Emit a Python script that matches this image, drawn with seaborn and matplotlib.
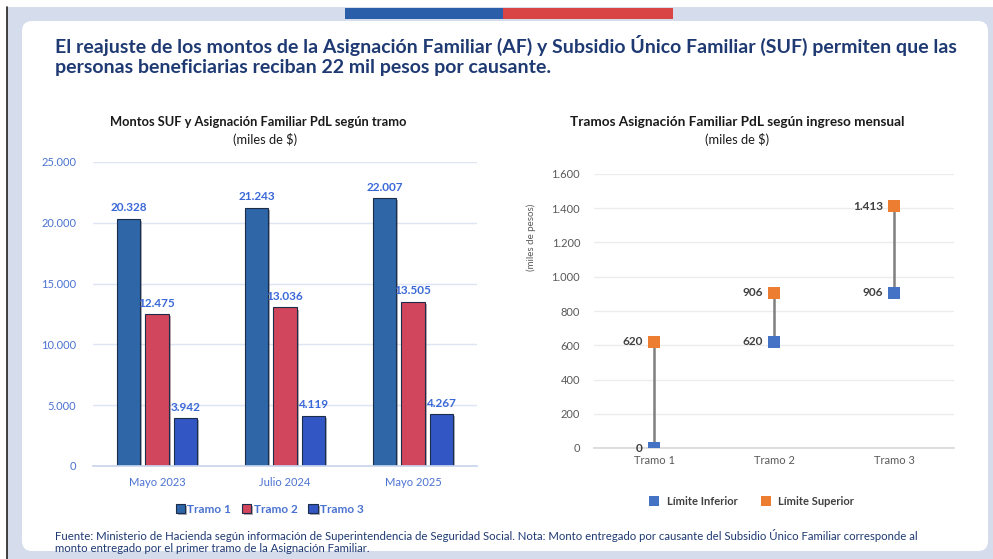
import numpy as np
import pandas as pd
import matplotlib
matplotlib.use("Agg")
import matplotlib.pyplot as plt
import matplotlib.patheffects as pe
from matplotlib.patches import Rectangle, FancyBboxPatch
import seaborn as sns

# datos
periodos = ["Mayo 2023", "Julio 2024", "Mayo 2025"]
tramo1 = [20328, 21243, 22007]
tramo2 = [12475, 13036, 13505]
tramo3 = [3942, 4119, 4267]

tramos = ["Tramo 1", "Tramo 2", "Tramo 3"]
lim_inf = [0, 620, 906]
lim_sup = [620, 906, 1413]

sns.set_theme(style="white")
plt.rcParams["font.family"] = ["Lato", "DejaVu Sans"]

NAVY = "#1f3a73"
BLUE_TXT = "#4a72d0"
pal_bar = ["#2e66a8", "#d1465d", "#3256c3"]
pal_pt = ["#4472c4", "#ed7d31"]

def fmt(v):
    return f"{v:,.0f}".replace(",", ".")

W, H = 993, 559
fig = plt.figure(figsize=(W / 100, H / 100), dpi=100)
fig.patch.set_facecolor("white")

def px(x0, y0, x1, y1):
    return [x0 / W, 1 - y1 / H, (x1 - x0) / W, (y1 - y0) / H]

# fondo y tarjeta
bg = fig.add_axes([0, 0, 1, 1], zorder=-10)
bg.set_xlim(0, W)
bg.set_ylim(H, 0)
bg.axis("off")
bg.add_patch(Rectangle((7, 7), W - 7, H - 7, color="#d5ddec", lw=0))
bg.plot([7, 7], [7, H], color="#222222", lw=1.2)
bg.add_patch(FancyBboxPatch((22, 21), 966, 530, boxstyle="round,pad=0,rounding_size=10",
                            fc="white", ec="none"))
bg.add_patch(Rectangle((345, 8), 158, 11, color="#2a5ea8", lw=0))
bg.add_patch(Rectangle((503, 8), 170, 11, color="#d94444", lw=0))

fig.text(55 / W, 1 - 45 / H, "El reajuste de los montos de la Asignación Familiar (AF) y Subsidio Único Familiar (SUF) permiten que las",
         fontsize=14, fontweight="bold", color=NAVY, va="center")
fig.text(55 / W, 1 - 68 / H, "personas beneficiarias reciban 22 mil pesos por causante.",
         fontsize=14, fontweight="bold", color=NAVY, va="center")

fig.text(55 / W, 1 - 535 / H, "Fuente: Ministerio de Hacienda según información de Superintendencia de Seguridad Social. Nota: Monto entregado por causante del Subsidio Único Familiar corresponde al",
         fontsize=8.2, color=NAVY, va="center")
fig.text(55 / W, 1 - 549 / H, "monto entregado por el primer tramo de la Asignación Familiar.",
         fontsize=8.2, color=NAVY, va="center")

# ---- grafico izquierdo ----
df_bar = pd.DataFrame({
    "periodo": periodos * 3,
    "tramo": ["Tramo 1"] * 3 + ["Tramo 2"] * 3 + ["Tramo 3"] * 3,
    "monto": tramo1 + tramo2 + tramo3,
})

ax1 = fig.add_axes(px(93, 162, 477, 466))
sns.barplot(data=df_bar, x="periodo", y="monto", hue="tramo", palette=pal_bar, saturation=1,
            width=0.66, gap=0.18, edgecolor="#1c2d4a", linewidth=0.8, ax=ax1)
for p in ax1.patches:
    p.set_path_effects([pe.SimplePatchShadow(offset=(1.5, -1.5), alpha=0.35), pe.Normal()])
for c in ax1.containers:
    ax1.bar_label(c, labels=[fmt(v) for v in c.datavalues], padding=4,
                  fontsize=8.5, fontweight="bold", color="#3a68d8")
ax1.set_ylim(0, 25000)
ax1.set_xlim(-0.5, 2.5)
ax1.set_yticks(np.arange(0, 25001, 5000))
ax1.set_yticklabels([fmt(v) for v in np.arange(0, 25001, 5000)])
ax1.yaxis.grid(True, color="#dde5f3", lw=1)
ax1.set_axisbelow(True)
for s in ["top", "right", "left"]:
    ax1.spines[s].set_visible(False)
ax1.spines["bottom"].set_color("#c9d5ee")
ax1.tick_params(axis="y", length=0, labelsize=8, labelcolor=BLUE_TXT, pad=12)
ax1.tick_params(axis="x", length=0, labelsize=8, labelcolor=BLUE_TXT, pad=8)
ax1.set_xticks([0.5, 1.5], minor=True)
ax1.tick_params(axis="x", which="minor", length=4, color="#c9d5ee")
ax1.set_xlabel("")
ax1.set_ylabel("")
leg = ax1.legend(loc="upper center", bbox_to_anchor=(0.46, -0.09), ncol=3, frameon=False,
                 handlelength=0.8, handleheight=0.8, handletextpad=0.2, columnspacing=0.9,
                 prop={"size": 8.5, "weight": "bold"})
for t in leg.get_texts():
    t.set_color(BLUE_TXT)
for h in leg.legend_handles:
    h.set_edgecolor("#1c2d4a")

fig.text(258 / W, 1 - 122 / H, "Montos SUF y Asignación Familiar PdL según tramo",
         ha="center", va="center", fontsize=9.3, fontweight="bold", color="#1a1a1a")
fig.text(265 / W, 1 - 140 / H, "(miles de $)", ha="center", va="center", fontsize=9.3, color="#1a1a1a")

# ---- grafico derecho ----
df_pt = pd.DataFrame({
    "tramo": tramos * 2,
    "limite": ["Límite Inferior"] * 3 + ["Límite Superior"] * 3,
    "valor": lim_inf + lim_sup,
})

ax2 = fig.add_axes(px(594, 174, 954, 448))
ax2.vlines(tramos, lim_inf, lim_sup, color="#7f7f7f", lw=1.8, zorder=2)
sns.scatterplot(data=df_pt, x="tramo", y="valor", hue="limite", palette=pal_pt,
                marker="s", s=70, linewidth=0, zorder=3, ax=ax2)
for i, (lo, hi) in enumerate(zip(lim_inf, lim_sup)):
    ax2.annotate(fmt(lo), (i, lo), xytext=(-8, 0), textcoords="offset points",
                 ha="right", va="center", fontsize=8.5, fontweight="bold", color="#404040")
    ax2.annotate(fmt(hi), (i, hi), xytext=(-8, 0), textcoords="offset points",
                 ha="right", va="center", fontsize=8.5, fontweight="bold", color="#404040")
ax2.set_ylim(0, 1600)
ax2.set_xlim(-0.5, 2.5)
ax2.set_yticks(np.arange(0, 1601, 200))
ax2.set_yticklabels([fmt(v) for v in np.arange(0, 1601, 200)])
ax2.yaxis.grid(True, color="#ececec", lw=1)
ax2.set_axisbelow(True)
for s in ["top", "right", "left"]:
    ax2.spines[s].set_visible(False)
ax2.spines["bottom"].set_color("#d9d9d9")
ax2.tick_params(axis="y", length=0, labelsize=8, labelcolor="#595959", pad=10)
ax2.tick_params(axis="x", length=0, labelsize=8, labelcolor="#595959", pad=5)
ax2.set_xlabel("")
ax2.set_ylabel("(miles de pesos)", fontsize=7, color="#595959")
ax2.yaxis.set_label_coords(-0.16, 0.77)
leg2 = ax2.legend(loc="upper center", bbox_to_anchor=(0.43, -0.14), ncol=2, frameon=False,
                  handletextpad=0.1, columnspacing=1.6, markerscale=0.8,
                  prop={"size": 8, "weight": "bold"})
for t in leg2.get_texts():
    t.set_color("#404040")

fig.text(737 / W, 1 - 122 / H, "Tramos Asignación Familiar PdL según ingreso mensual",
         ha="center", va="center", fontsize=9.8, fontweight="bold", color="#1a1a1a")
fig.text(737 / W, 1 - 140 / H, "(miles de $)", ha="center", va="center", fontsize=9.3, color="#1a1a1a")

fig.savefig("out.png", dpi=100)
